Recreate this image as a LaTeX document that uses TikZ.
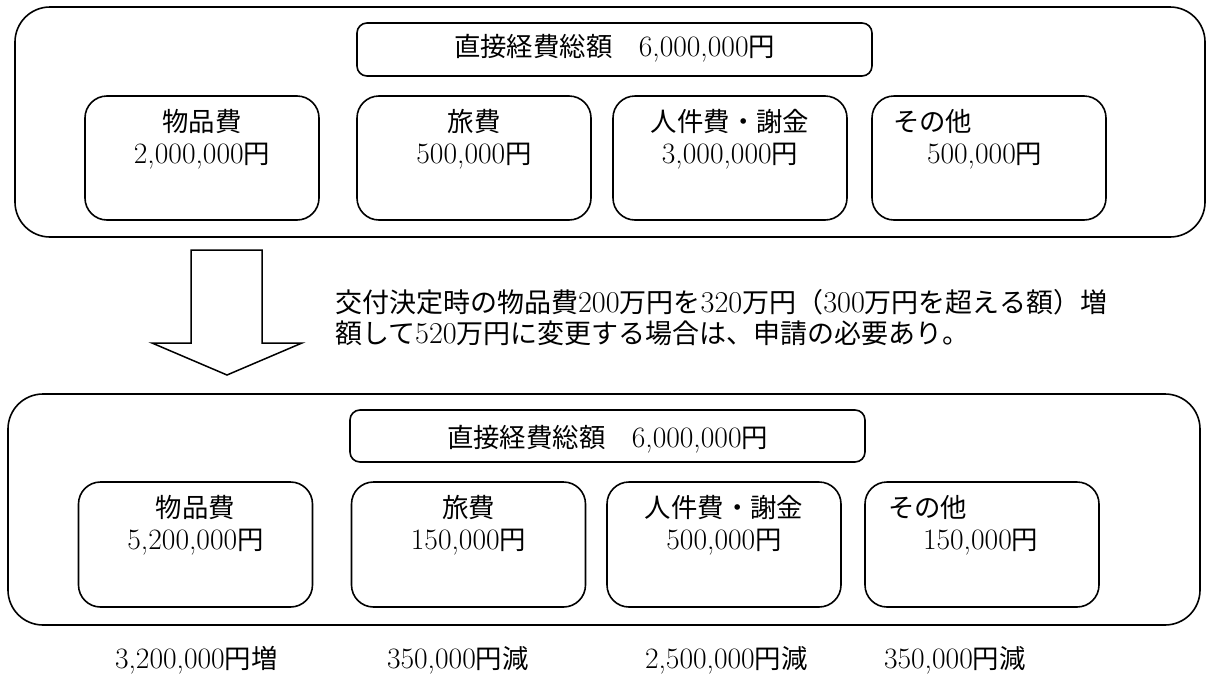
\documentclass[tikz,border=0pt]{standalone}
\usepackage{fontspec}
\setmainfont{Latin Modern Roman}[Scale=1.12]
\newfontfamily\cjk{Noto Sans CJK JP}
\newcommand\jp[1]{{\cjk #1}}
\begin{document}
\begin{tikzpicture}[x=1pt,y=-1pt,
  every node/.style={inner sep=0pt, outer sep=0pt},
  bigbox/.style={draw, line width=1.6pt, rounded corners=35pt},
  titlebox/.style={draw, line width=1.6pt, rounded corners=10pt, minimum width=515pt},
  itembox/.style={draw, line width=1.6pt, rounded corners=22pt, minimum width=234pt, minimum height=124pt},
  lbl/.style={font=\fontsize{26.4}{32}\selectfont},
  notelbl/.style={font=\fontsize{27}{32}\selectfont},
  blockarrow/.style={draw, line width=1.5pt, fill=white, line join=miter}
]
\useasboundingbox (0,0) rectangle (1208,675);

% ---------- top group ----------
\node[bigbox, minimum width=1190pt, minimum height=230pt] (topouter) at (610,122) {};
\node[titlebox, minimum height=53pt] (toptitle) at (614.5,49.5) {};
\node[lbl, anchor=base] (toptitletext) at (614.5,56) {\jp{直接経費総額　}6,000,000\jp{円}};

\node[itembox] (tb1) at (202,158) {};
\node[itembox] (tb2) at (474,158) {};
\node[itembox] (tb3) at (730,158) {};
\node[itembox] (tb4) at (989,158) {};

\node[lbl, anchor=base] (tb1a) at (202,131) {\jp{物品費}};
\node[lbl, anchor=base] (tb1b) at (202,163) {2,000,000\jp{円}};
\node[lbl, anchor=base] (tb2a) at (474,131) {\jp{旅費}};
\node[lbl, anchor=base] (tb2b) at (474,163) {500,000\jp{円}};
\node[lbl, anchor=base] (tb3a) at (730,131) {\jp{人件費・謝金}};
\node[lbl, anchor=base] (tb3b) at (730,163) {3,000,000\jp{円}};
\node[lbl, anchor=base west] (tb4a) at (893,131) {\jp{その他}};
\node[lbl, anchor=base west] (tb4b) at (927,163) {500,000\jp{円}};

% ---------- arrow and note ----------
\draw[blockarrow] (191,250) -- (262,250) -- (262,343) -- (302,343) -- (227,375)
  -- (152,343) -- (191,343) -- cycle;
\node[notelbl, anchor=base west] (note1) at (335,312)
  {\jp{交付決定時の物品費}200\jp{万円を}320\jp{万円（}300\jp{万円を超える額）増}};
\node[notelbl, anchor=base west] (note2) at (335,343)
  {\jp{額して}520\jp{万円に変更する場合は、申請の必要あり。}};

% ---------- bottom group ----------
\node[bigbox, minimum width=1192pt, minimum height=231pt] (botouter) at (604,509.5) {};
\node[titlebox, minimum height=52pt] (bottitle) at (607.5,436) {};
\node[lbl, anchor=base] (bottitletext) at (607.5,447) {\jp{直接経費総額　}6,000,000\jp{円}};

\node[itembox, minimum height=125pt] (bb1) at (195.5,544.5) {};
\node[itembox, minimum height=125pt] (bb2) at (468.5,544.5) {};
\node[itembox, minimum height=125pt] (bb3) at (724,544.5) {};
\node[itembox, minimum height=125pt] (bb4) at (982,544.5) {};

\node[lbl, anchor=base] (bb1a) at (195.5,517) {\jp{物品費}};
\node[lbl, anchor=base] (bb1b) at (195.5,549) {5,200,000\jp{円}};
\node[lbl, anchor=base] (bb2a) at (468.5,517) {\jp{旅費}};
\node[lbl, anchor=base] (bb2b) at (468.5,549) {150,000\jp{円}};
\node[lbl, anchor=base] (bb3a) at (724,517) {\jp{人件費・謝金}};
\node[lbl, anchor=base] (bb3b) at (724,549) {500,000\jp{円}};
\node[lbl, anchor=base west] (bb4a) at (888,517) {\jp{その他}};
\node[lbl, anchor=base west] (bb4b) at (923,549) {150,000\jp{円}};

% ---------- differences ----------
\node[lbl, anchor=base west] (d1) at (115,668) {3,200,000\jp{円増}};
\node[lbl, anchor=base west] (d2) at (387,668) {350,000\jp{円減}};
\node[lbl, anchor=base west] (d3) at (645,668) {2,500,000\jp{円減}};
\node[lbl, anchor=base west] (d4) at (884,668) {350,000\jp{円減}};
\end{tikzpicture}
\end{document}
